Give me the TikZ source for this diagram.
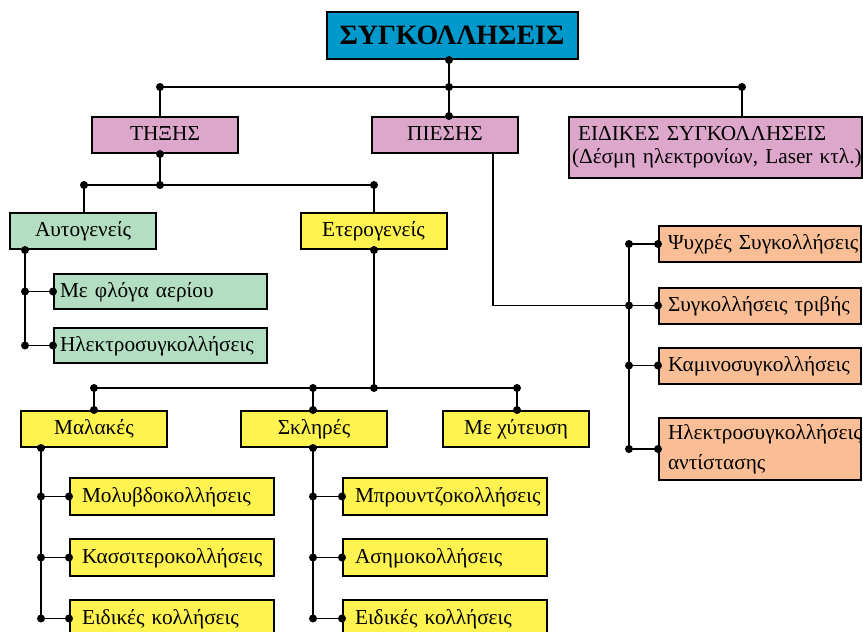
\documentclass[tikz,border=0pt]{standalone}
\usepackage{fontspec}
\setmainfont{Liberation Serif}

\definecolor{rootblue}{RGB}{0,153,204}
\definecolor{pinkbox}{RGB}{221,167,204}
\definecolor{greenbox}{RGB}{179,222,194}
\definecolor{yellowbox}{RGB}{255,243,80}
\definecolor{orangebox}{RGB}{250,190,150}

\tikzset{
    box/.style={draw, line width=2pt, inner sep=0pt, font=\fontsize{21.3}{23}\selectfont},
    head/.style={box, minimum width=146pt, minimum height=36pt, text height=15pt, text depth=4pt},
    leaf/.style={box, align=left, minimum height=37pt, text height=15pt, text depth=4pt, text width=180pt, inner xsep=12pt},
    link/.style={line width=1.8pt}
}

\begin{document}
\begin{tikzpicture}[x=1pt, y=-1pt]
    \useasboundingbox (0,0) rectangle (863,632);

    % Title
    \node[box, fill=rootblue, minimum width=251pt, minimum height=47pt, font=\fontsize{28}{30}\selectfont\bfseries] (root) at (452,35.5) {ΣΥΓΚΟΛΛΗΣΕΙΣ};

    % First level
    \node[head, fill=pinkbox] (thixi) at (165,135) {ΤΗΞΗΣ};
    \node[head, fill=pinkbox] (piesi) at (445,135) {ΠΙΕΣΗΣ};
    \node[box, fill=pinkbox, align=left, text width=287pt, inner xsep=3pt, minimum height=61pt] (eidikes) at (715.5,147.5) {\hspace*{6pt}\mbox{ΕΙΔΙΚΕΣ ΣΥΓΚΟΛΛΗΣΕΙΣ}\\\mbox{(Δέσμη ηλεκτρονίων, Laser κτλ.)}};

    % Fusion
    \node[head, fill=greenbox] (autog) at (83,231) {Αυτογενείς};
    \node[head, fill=yellowbox] (eterog) at (373.5,231) {Ετερογενείς};
    \node[leaf, fill=greenbox, text width=201pt, inner xsep=6pt, minimum height=35pt] (flogas) at (160.5,291.5) {Με φλόγα αερίου};
    \node[leaf, fill=greenbox, text width=201pt, inner xsep=6pt, minimum height=35pt] (ilektro) at (160.5,345.5) {Ηλεκτροσυγκολλήσεις};

    % Pressure
    \node[leaf, fill=orangebox, text width=184pt, inner xsep=9pt, minimum height=36pt] (psyxres) at (760,244) {\mbox{Ψυχρές Συγκολλήσεις}};
    \node[leaf, fill=orangebox, text width=184pt, inner xsep=9pt, minimum height=36pt] (trivis) at (760,305.5) {\mbox{Συγκολλήσεις τριβής}};
    \node[leaf, fill=orangebox, text width=184pt, inner xsep=9pt, minimum height=36pt] (kamino) at (760,365.5) {Καμινοσυγκολλήσεις};
    \node[box, fill=orangebox, align=left, text width=184pt, inner xsep=9pt, minimum height=62pt] (antist) at (760,449) {Ηλεκτροσυγκολλήσεις\\[7pt]αντίστασης};

    % Brazing and soldering
    \node[head, fill=yellowbox] (malakes) at (94,429) {Μαλακές};
    \node[head, fill=yellowbox] (sklires) at (314,429) {Σκληρές};
    \node[head, fill=yellowbox] (xyteysi) at (516,429) {Με χύτευση};

    \node[leaf, fill=yellowbox] (molyvdo) at (172,496.5) {Μολυβδοκολλήσεις};
    \node[leaf, fill=yellowbox] (kassit) at (172,557.5) {Κασσιτεροκολλήσεις};
    \node[leaf, fill=yellowbox] (eidmal) at (172,618.5) {Ειδικές κολλήσεις};

    \node[leaf, fill=yellowbox] (brountzo) at (445,496.5) {Μπρουντζοκολλήσεις};
    \node[leaf, fill=yellowbox] (asimo) at (445,557.5) {Ασημοκολλήσεις};
    \node[leaf, fill=yellowbox] (eidskl) at (445,618.5) {Ειδικές κολλήσεις};

    % Junctions
    \coordinate (j0) at (449,87);
    \coordinate (jl) at (160,87);
    \coordinate (jr) at (742,87);
    \coordinate (jt) at (160,185);
    \coordinate (jta) at (84,185);
    \coordinate (jte) at (374,185);
    \coordinate (ja) at (25,342);
    \coordinate (jp) at (493,305);
    \coordinate (jo) at (629,305);
    \coordinate (jh) at (374,388);
    \coordinate (jm) at (94,388);
    \coordinate (js) at (313,388);
    \coordinate (jx) at (517,388);
    \coordinate (mx) at (41,618);
    \coordinate (sx) at (313,618);

    % Edges
    \draw[link] (root.south -| j0) -- (piesi.north -| j0);
    \draw[link] (jl |- thixi.north) -- (jl) -- (jr) -- (jr |- eidikes.north);

    \draw[link] (thixi.south -| jt) -- (jt);
    \draw[link] (jta |- autog.north) -- (jta) -- (jte) -- (jte |- eterog.north);

    \draw[link] (autog.south -| ja) -- (ja |- ilektro.west);
    \foreach \n in {flogas, ilektro}
        \draw[link] (ja |- \n.west) -- (\n.west);

    \draw[link] (jp |- piesi.south) -- (jp |- trivis.west) -- (jo |- trivis.west);
    \draw[link] (jo |- psyxres.west) -- (jo |- antist.west);
    \foreach \n in {psyxres, trivis, kamino, antist}
        \draw[link] (jo |- \n.west) -- (\n.west);

    \draw[link] (eterog.south -| jh) -- (jh);
    \draw[link] (jm |- malakes.north) -- (jm) -- (jx) -- (jx |- xyteysi.north);
    \draw[link] (js) -- (js |- sklires.north);

    \draw[link] (malakes.south -| mx) -- (mx |- eidmal.west);
    \foreach \n in {molyvdo, kassit, eidmal}
        \draw[link] (mx |- \n.west) -- (\n.west);
    \draw[link] (sklires.south -| sx) -- (sx |- eidskl.west);
    \foreach \n in {brountzo, asimo, eidskl}
        \draw[link] (sx |- \n.west) -- (\n.west);

    % Dots
    \foreach \p in {root.south -| j0, j0, jl, jr, piesi.north -| j0,
                    thixi.south -| jt, jt, jta, jte, autog.south -| ja,
                    ja |- flogas.west, flogas.west, ja |- ilektro.west, ilektro.west,
                    jo |- psyxres.west, psyxres.west, jo |- trivis.west, trivis.west,
                    jo |- kamino.west, kamino.west, jo |- antist.west, antist.west,
                    eterog.south -| jh, jh, jm, js, jx,
                    malakes.north -| jm, sklires.north -| js, xyteysi.north -| jx,
                    malakes.south -| mx, mx |- molyvdo.west, molyvdo.west,
                    mx |- kassit.west, kassit.west, mx |- eidmal.west, eidmal.west,
                    sklires.south -| sx, sx |- brountzo.west, brountzo.west,
                    sx |- asimo.west, asimo.west, sx |- eidskl.west, eidskl.west}
        \fill (\p) circle (4);
\end{tikzpicture}
\end{document}
